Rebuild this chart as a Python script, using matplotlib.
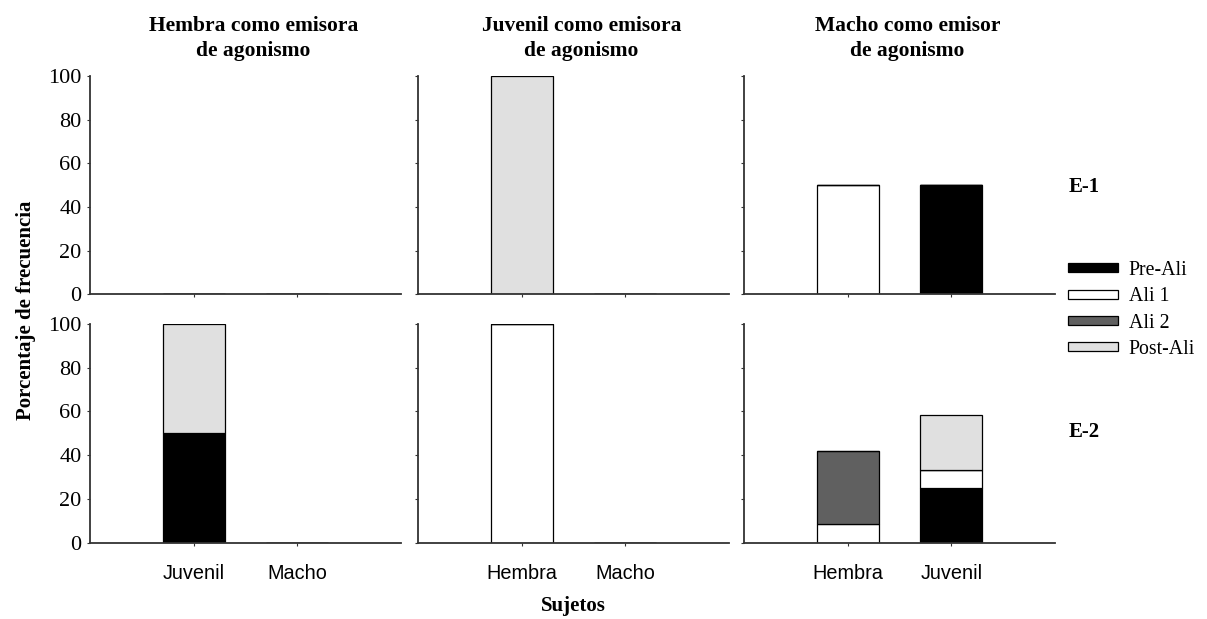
import matplotlib
matplotlib.use("Agg")
import matplotlib.pyplot as plt
from matplotlib.patches import Patch

plt.rcParams['font.family'] = 'Liberation Serif'

emitters = ["Hembra como emisora\nde agonismo",
            "Juvenil como emisora\nde agonismo",
            "Macho como emisor\nde agonismo"]
receivers = [["Juvenil", "Macho"], ["Hembra", "Macho"], ["Hembra", "Juvenil"]]
series = ["Pre-Ali", "Ali 1", "Ali 2", "Post-Ali"]
colors = ["#000000", "#ffffff", "#606060", "#e0e0e0"]
rows = ["E-1", "E-2"]

# E-1 (one list per emitter, one value per receiver)
pre_ali_e1 = [[0, 0], [0, 0], [0, 50]]
ali1_e1 = [[0, 0], [0, 0], [50, 0]]
ali2_e1 = [[0, 0], [0, 0], [0, 0]]
post_ali_e1 = [[0, 0], [100, 0], [0, 0]]

# E-2
pre_ali_e2 = [[50, 0], [0, 0], [0, 25]]
ali1_e2 = [[0, 0], [100, 0], [8.33, 8.33]]
ali2_e2 = [[0, 0], [0, 0], [33.33, 0]]
post_ali_e2 = [[50, 0], [0, 0], [0, 25]]

data = [[pre_ali_e1, ali1_e1, ali2_e1, post_ali_e1],
        [pre_ali_e2, ali1_e2, ali2_e2, post_ali_e2]]

W, H = 1207, 619
fig = plt.figure(figsize=(W / 100, H / 100), dpi=100)

lefts = [90, 418, 744]
tops = [76, 324]
aw, ah = 311, 218.5

spine_col = "#333333"
for r in range(2):
    for c in range(3):
        ax = fig.add_axes([lefts[c] / W, 1 - (tops[r] + ah) / H, aw / W, ah / H])
        x = [1, 2]
        bottom = [0, 0]
        for s in range(4):
            vals = data[r][s][c]
            ax.bar(x, vals, width=0.6, bottom=bottom, color=colors[s],
                   edgecolor="black", linewidth=0.9, zorder=1)
            bottom = [b + v for b, v in zip(bottom, vals)]
        ax.set_xlim(0, 3)
        ax.set_ylim(0, 100)
        ax.set_yticks(range(0, 101, 20))
        ax.set_xticks(x)
        for sp in ["top", "right"]:
            ax.spines[sp].set_visible(False)
        for sp in ["left", "bottom"]:
            ax.spines[sp].set_color(spine_col)
            ax.spines[sp].set_linewidth(1.3)
        ax.tick_params(axis="y", direction="out", length=2.5, width=0.8,
                       color=spine_col, pad=3.5, labelsize=16)
        ax.tick_params(axis="x", direction="out", length=2.5, width=0.8,
                       color=spine_col, pad=13)
        if c > 0:
            ax.set_yticklabels([])
        if r == 1:
            ax.set_xticklabels(receivers[c], family="Liberation Sans", fontsize=14.3)
        else:
            ax.set_xticklabels([])
            ax.text(0.5 + 0.025, 1.0 + 20 / ah, emitters[c], transform=ax.transAxes,
                    ha="center", va="baseline", fontsize=15.5, fontweight="bold",
                    linespacing=1.36)

fig.text(26 / W, 1 - 310 / H, "Porcentaje de frecuencia", rotation=90,
         ha="center", va="center", fontsize=15, fontweight="bold")
fig.text(573 / W, 1 - 606 / H, "Sujetos", ha="center", va="center",
         fontsize=15, fontweight="bold")

fig.text(1069 / W, 1 - 187 / H, rows[0], ha="left", va="center",
         fontsize=15, fontweight="bold")
fig.text(1069 / W, 1 - 432 / H, rows[1], ha="left", va="center",
         fontsize=15, fontweight="bold")

handles = [Patch(facecolor=col, edgecolor="black", linewidth=0.9, label=lab)
           for col, lab in zip(colors, series)]
fig.legend(handles=handles, loc="center left",
           bbox_to_anchor=(1068 / W, 1 - 310 / H), frameon=False,
           fontsize=14.3, handlelength=2.5, handleheight=0.32,
           handletextpad=0.55, labelspacing=0.37, borderpad=0, borderaxespad=0)

fig.savefig("out.png", dpi=100)
